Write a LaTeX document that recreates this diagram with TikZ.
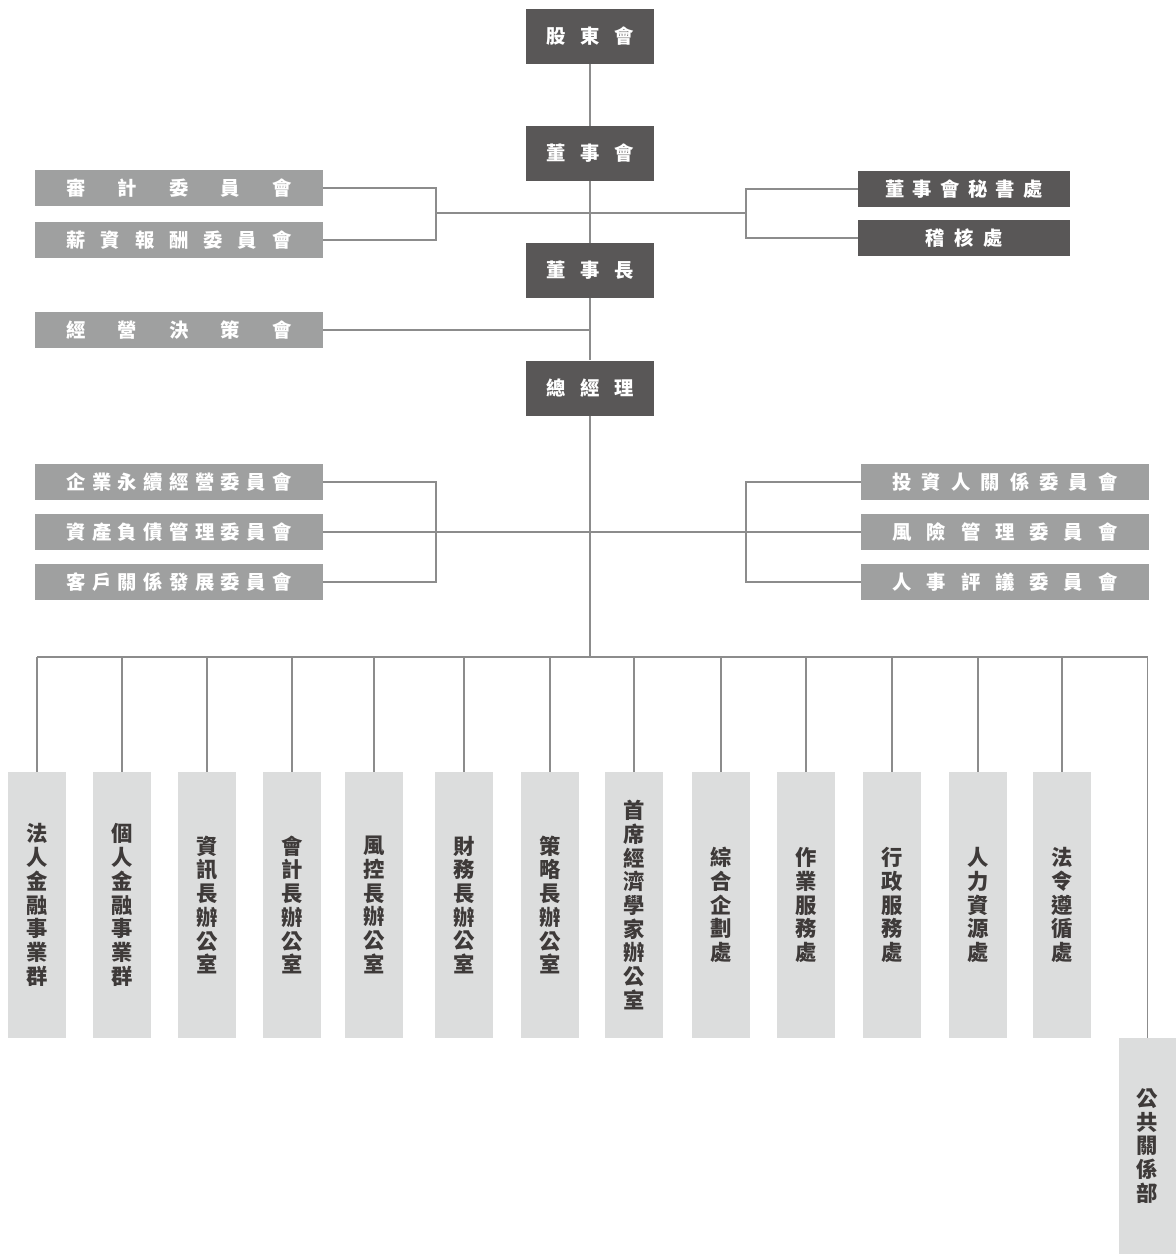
\documentclass[tikz,border=0pt]{standalone}
\usepackage{fontspec}
\setmainfont{Noto Sans CJK TC}
\usepackage{tikz}
\definecolor{HeadGry}{HTML}{595757}
\definecolor{CmteGry}{HTML}{9FA0A0}
\definecolor{UnitGry}{HTML}{DCDDDD}
\definecolor{UnitTxt}{HTML}{3E3A39}
\definecolor{LinkGry}{HTML}{8C8C8C}
% spread the characters of #2 evenly over width #1
\newcommand\spreadtxt[2]{\makebox[#1][s]{\spreadloop#2\relax\unskip}}
\def\spreadloop#1{\ifx\relax#1\else#1\hfil\expandafter\spreadloop\fi}

\begin{document}
\begin{tikzpicture}[
  x=0.75pt, y=-0.75pt,
  font=\fontsize{14.5pt}{17pt}\selectfont\bfseries,
  head/.style = {fill=HeadGry, text=white, inner sep=0pt,
                 minimum width=96pt, minimum height=41.25pt},
  staff/.style= {fill=HeadGry, text=white, inner sep=0pt,
                 minimum width=159pt, minimum height=27pt},
  cmte/.style = {fill=CmteGry, text=white, inner sep=0pt,
                 minimum width=216pt, minimum height=27pt},
  unit/.style = {fill=UnitGry, text=UnitTxt, inner sep=0pt, align=center,
                 minimum width=43.5pt, minimum height=199.5pt,
                 font=\fontsize{16pt}{17.8pt}\selectfont\bfseries},
  link/.style = {draw=LinkGry, line width=0.9pt},
]
\useasboundingbox (0,0) rectangle (1176,1254);

% main chain
\node[head] (shr)   at (590, 36.5) {\spreadtxt{66pt}{股東會}};
\node[head] (bod)   at (590,153.5) {\spreadtxt{66pt}{董事會}};
\node[head] (chair) at (590,270.5) {\spreadtxt{66pt}{董事長}};
\node[head] (pres)  at (590,388  ) {\spreadtxt{66pt}{總經理}};

% board committees
\node[cmte]  (aud) at ( 179,188) {\spreadtxt{168.75pt}{審計委員會}};
\node[cmte]  (pay) at ( 179,240) {\spreadtxt{168.75pt}{薪資報酬委員會}};
\node[staff] (sec) at ( 964,189) {\spreadtxt{118.5pt}{董事會秘書處}};
\node[staff] (adt) at ( 964,238) {\spreadtxt{57.75pt}{稽核處}};
\node[cmte]  (ops) at ( 179,330) {\spreadtxt{168.75pt}{經營決策會}};

% management committees
\node[cmte] (esg) at ( 179,482) {\spreadtxt{168.75pt}{企業永續經營委員會}};
\node[cmte] (alm) at ( 179,532) {\spreadtxt{168.75pt}{資產負債管理委員會}};
\node[cmte] (cus) at ( 179,582) {\spreadtxt{168.75pt}{客戶關係發展委員會}};
\node[cmte] (inv) at (1005,482) {\spreadtxt{168.75pt}{投資人關係委員會}};
\node[cmte] (ris) at (1005,532) {\spreadtxt{168.75pt}{風險管理委員會}};
\node[cmte] (hrc) at (1005,582) {\spreadtxt{168.75pt}{人事評議委員會}};

% units
\foreach \x/\n/\lbl in {
   37/u1/{法\\人\\金\\融\\事\\業\\群},
  122/u2/{個\\人\\金\\融\\事\\業\\群},
  207/u3/{資\\訊\\長\\辦\\公\\室},
  292/u4/{會\\計\\長\\辦\\公\\室},
  374/u5/{風\\控\\長\\辦\\公\\室},
  464/u6/{財\\務\\長\\辦\\公\\室},
  550/u7/{策\\略\\長\\辦\\公\\室},
  634/u8/{首\\席\\經\\濟\\學\\家\\辦\\公\\室},
  721/u9/{綜\\合\\企\\劃\\處},
  806/u10/{作\\業\\服\\務\\處},
  892/u11/{行\\政\\服\\務\\處},
  978/u12/{人\\力\\資\\源\\處},
 1062/u13/{法\\令\\遵\\循\\處}}
  \node[unit] (\n) at (\x,905) {\lbl};
\node[unit, minimum width=42.75pt, minimum height=162pt]
  (u14) at (1147.5,1146) {公\\共\\關\\係\\部};

% connectors
\coordinate (bus) at (590,657);
\coordinate (jl1) at (436,213);
\coordinate (jr1) at (746,213);
\coordinate (jl2) at (436,532);
\coordinate (jr2) at (746,532);
\draw[link] (shr.south) -- (bod.north);
\draw[link] (bod.south) -- (chair.north);
\draw[link] (chair.south) -- (pres.north);
\draw[link] (pres.south) -- (bus);
\draw[link] (aud.east) -| (jl1) |- (pay.east);
\draw[link] (jl1) -- (jr1);
\draw[link] (sec.west) -| (jr1) |- (adt.west);
\draw[link] (ops.east) -- (ops.east -| bus);
\draw[link] (esg.east) -| (jl2) |- (cus.east);
\draw[link] (alm.east) -- (ris.west);
\draw[link] (inv.west) -| (jr2) |- (hrc.west);
\draw[link] (u1.north |- bus) -- (u14.north |- bus);
\foreach \n in {u1,u2,u3,u4,u5,u6,u7,u8,u9,u10,u11,u12,u13,u14}
  \draw[link] (\n.north |- bus) -- (\n.north);
\end{tikzpicture}
\end{document}
